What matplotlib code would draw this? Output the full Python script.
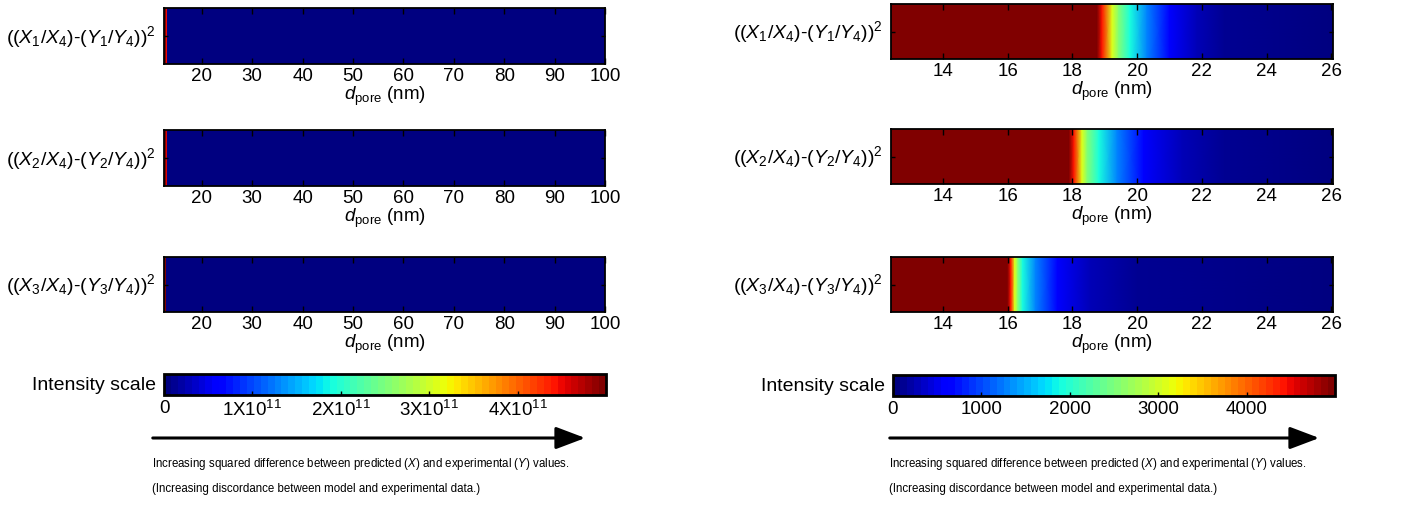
import numpy as np
import matplotlib
matplotlib.use('Agg')
import matplotlib.pyplot as plt
from matplotlib.cm import ScalarMappable
from matplotlib.colors import Normalize
from matplotlib.patches import FancyArrowPatch

plt.rcParams['font.family'] = 'Liberation Sans'
plt.rcParams['mathtext.fontset'] = 'custom'
plt.rcParams['mathtext.rm'] = 'Liberation Sans'
plt.rcParams['mathtext.it'] = 'Liberation Sans:italic'
plt.rcParams['mathtext.bf'] = 'Liberation Sans:bold'

# ---- data ----
# left column: wide pore range, intensity scale up to ~5e11 (cell edges + cell values)
left_edges = [12.5, 12.8, 13.1, 100.0]
left_rows = [
    [5.0e11, 4.5e11, 1.0e8],
    [5.0e11, 4.6e11, 1.0e8],
    [5.0e11, 2.0e9, 1.0e8],
]
left_vmax = 5.0e11
left_ticks = [0, 1e11, 2e11, 3e11, 4e11]
left_ticklabels = ['0', '1X10$^{11}$', '2X10$^{11}$', '3X10$^{11}$', '4X10$^{11}$']

# right column: zoom on 12.4-26 nm, intensity scale up to ~5000
right_d = [
    [12.4, 18.77, 18.92, 19.23, 19.43, 19.78, 20.3, 21.0, 21.85, 22.7, 26.05],
    [12.4, 17.9, 18.05, 18.3, 18.46, 18.82, 19.38, 20.2, 21.4, 22.7, 26.05],
    [12.4, 16.0, 16.1, 16.22, 16.32, 16.46, 16.86, 17.54, 18.55, 20.0, 26.05],
]
right_rows = [
    [5000, 5000, 4400, 3100, 2500, 1900, 1250, 600, 280, 100, 20],
    [5000, 5000, 4400, 3100, 2500, 1900, 1250, 600, 280, 100, 20],
    [5000, 5000, 4400, 3100, 2500, 1900, 1250, 600, 280, 100, 20],
]
right_vmax = 5000
right_ticks = [0, 1000, 2000, 3000, 4000]
right_ticklabels = ['0', '1000', '2000', '3000', '4000']

left_xticks = [20, 30, 40, 50, 60, 70, 80, 90, 100]
right_xticks = [14, 16, 18, 20, 22, 24, 26]

row_labels = [
    r'(($X_\mathit{1}$/$X_\mathit{4}$)-($Y_\mathit{1}$/$Y_\mathit{4}$))$^\mathit{2}$',
    r'(($X_\mathit{2}$/$X_\mathit{4}$)-($Y_\mathit{2}$/$Y_\mathit{4}$))$^\mathit{2}$',
    r'(($X_\mathit{3}$/$X_\mathit{4}$)-($Y_\mathit{3}$/$Y_\mathit{4}$))$^\mathit{2}$',
]
caption1 = 'Increasing squared difference between predicted ($X$) and experimental ($Y$) values.'
caption2 = '(Increasing discordance between model and experimental data.)'

W, H = 1411, 506
fig = plt.figure(figsize=(W / 100, H / 100), dpi=100)
cmap = plt.get_cmap('jet', 64)


def rect(x0, y0, x1, y1):
    # pixel box (top-left origin) -> figure fraction
    return [x0 / W, 1 - y1 / H, (x1 - x0) / W, (y1 - y0) / H]


def style_strip(ax, box, xlim, xticks, label):
    ax.set_xlim(*xlim)
    ax.set_ylim(0, 1)
    ax.set_xticks(xticks)
    ax.set_yticks([0.5])
    ax.set_yticklabels([])
    ax.tick_params(axis='x', direction='in', top=True, length=4, width=1,
                   labelsize=13.5, pad=2)
    ax.tick_params(axis='y', direction='in', right=True, length=3, width=1)
    for s in ax.spines.values():
        s.set_linewidth(1.3)
    ax.set_xlabel(r'$d_{\mathrm{pore}}$ (nm)', fontsize=13.5, labelpad=0)
    fig.text((box[0] - 8) / W, 1 - (box[1] + box[3]) / 2 / H, label,
             ha='right', va='center', fontsize=14)


left_boxes = [(164, 9, 605, 65), (164, 131, 605, 187), (164, 258, 605, 313)]
right_boxes = [(891, 5, 1333, 60), (891, 130, 1333, 185), (891, 258, 1333, 313)]

for i in range(3):
    # left: flat cells
    ax = fig.add_axes(rect(*left_boxes[i]))
    ax.pcolormesh(left_edges, [0, 1], [left_rows[i]], shading='flat',
                  cmap=cmap, vmin=0, vmax=left_vmax)
    style_strip(ax, left_boxes[i], (12.5, 100), left_xticks, row_labels[i])

    # right: smooth gradient between the read-off points
    ax = fig.add_axes(rect(*right_boxes[i]))
    d = np.asarray(right_d[i], dtype=float)
    X = np.vstack([d, d])
    Y = np.vstack([np.zeros_like(d), np.ones_like(d)])
    Z = np.vstack([right_rows[i], right_rows[i]])
    ax.pcolormesh(X, Y, Z, shading='gouraud', cmap=cmap, vmin=0, vmax=right_vmax)
    style_strip(ax, right_boxes[i], (12.4, 26.05), right_xticks, row_labels[i])


def scale_bar(box, vmax, ticks, ticklabels):
    cax = fig.add_axes(rect(*box))
    sm = ScalarMappable(norm=Normalize(0, vmax), cmap=cmap)
    cb = fig.colorbar(sm, cax=cax, orientation='horizontal')
    cb.set_ticks(ticks)
    cb.set_ticklabels(ticklabels)
    cb.outline.set_linewidth(2)
    cax.tick_params(direction='in', length=3, width=1, labelsize=13.5, pad=3)
    fig.text((box[0] - 8) / W, 1 - (box[1] + box[3]) / 2 / H, 'Intensity scale',
             ha='right', va='center', fontsize=14)
    return cb


scale_bar((164, 375, 606, 396), left_vmax, left_ticks, left_ticklabels)
scale_bar((893, 376, 1335, 397), right_vmax, right_ticks, right_ticklabels)

# arrows and captions underneath each scale
for x0, x1 in [(150, 588), (887, 1322)]:
    fig.add_artist(FancyArrowPatch(
        (x0 / W, 1 - 439 / H), (x1 / W, 1 - 439 / H), transform=fig.transFigure,
        arrowstyle='-|>,head_length=0.9,head_width=0.34', mutation_scale=20,
        lw=2.2, color='black'))
    fig.text((x0 + 2) / W, 1 - 464 / H, caption1, ha='left', va='center', fontsize=8.3)
    fig.text((x0 + 2) / W, 1 - 489 / H, caption2, ha='left', va='center', fontsize=8.3)

fig.savefig('out.png', dpi=100)
